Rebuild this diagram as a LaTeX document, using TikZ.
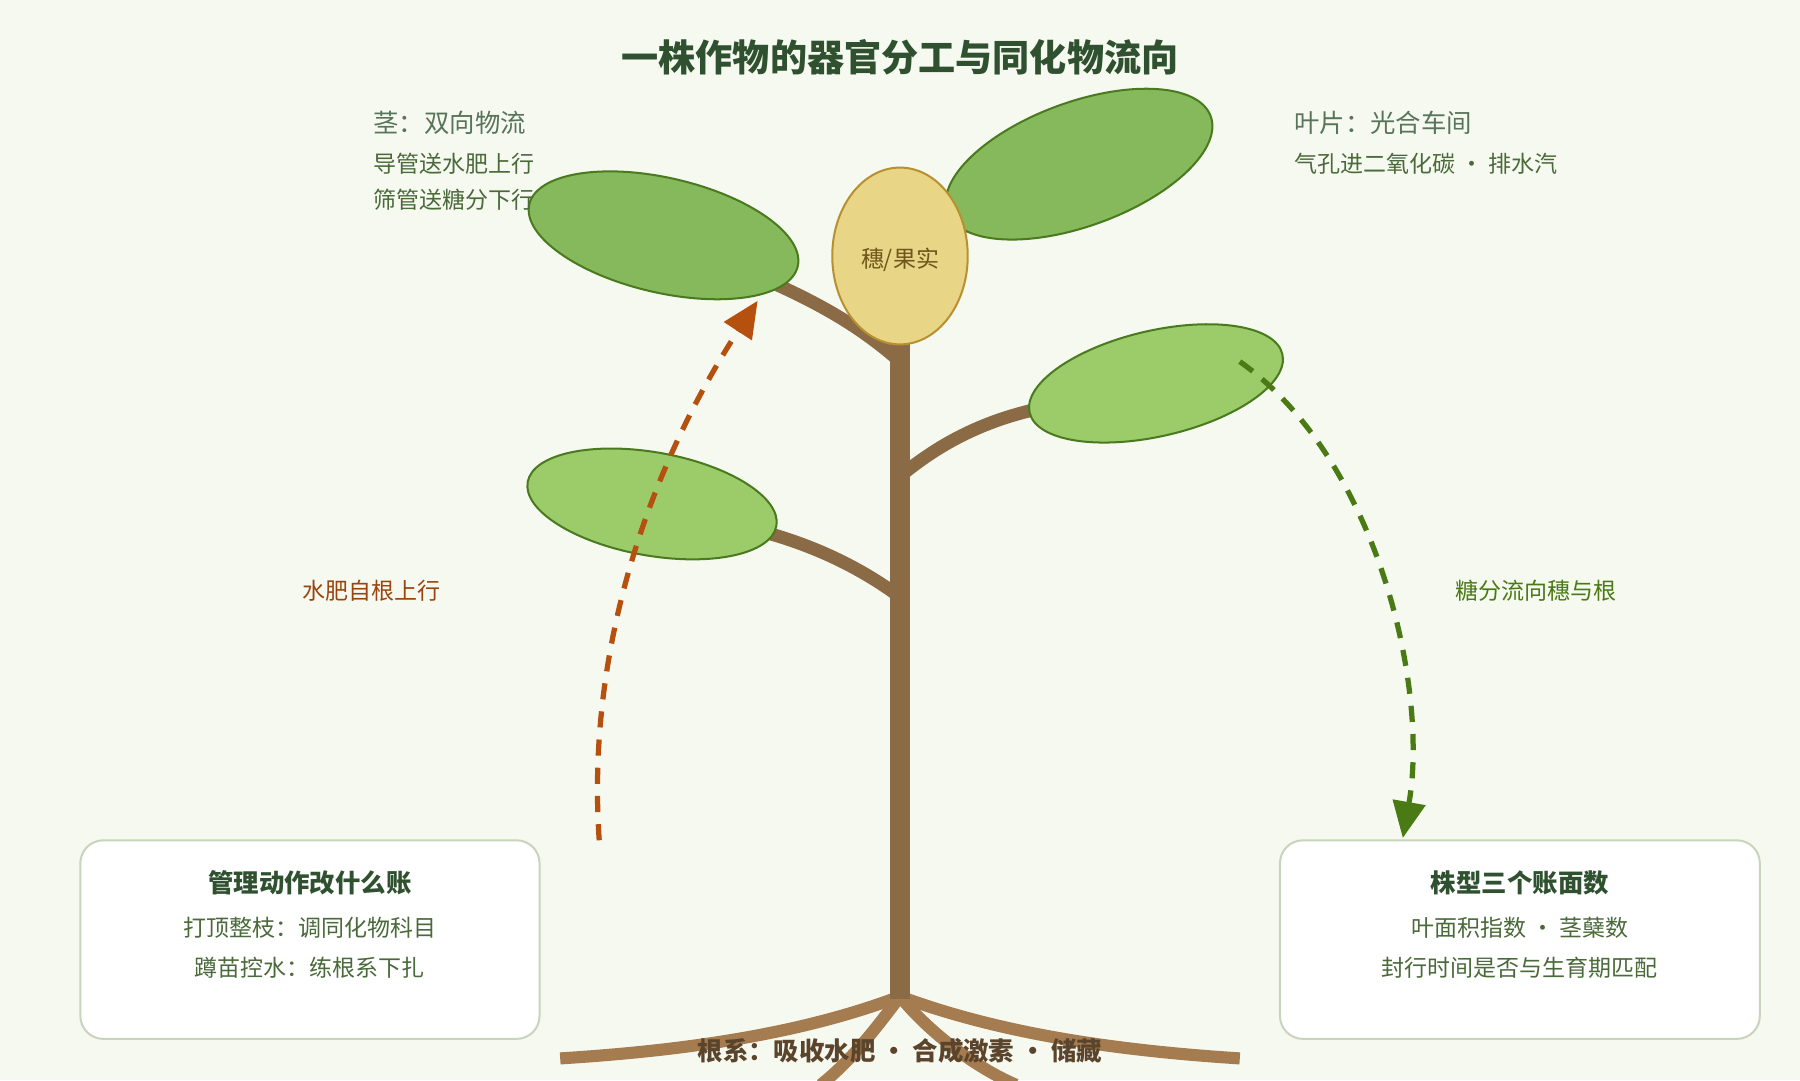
\documentclass[tikz,border=0pt]{standalone}
\usepackage{fontspec}
\setmainfont{Noto Sans CJK SC}
\usetikzlibrary{arrows.meta}
\definecolor{bg}{HTML}{F6F9F0}
\definecolor{stem}{HTML}{8B6B45}
\definecolor{root}{HTML}{A57B50}
\definecolor{leafA}{HTML}{86B95B}
\definecolor{leafB}{HTML}{9CCB6A}
\definecolor{leafE}{HTML}{4A7A1E}
\definecolor{fruit}{HTML}{E8D686}
\definecolor{fruitE}{HTML}{B8902F}
\definecolor{org}{HTML}{B5500F}
\definecolor{grn}{HTML}{4A7A14}
\definecolor{tdark}{HTML}{2F5130}
\definecolor{tmid}{HTML}{4A6A3A}
\definecolor{boxE}{HTML}{C8D4BC}
\begin{document}
\begin{tikzpicture}[x=0.1mm,y=-0.1mm,
 leaf/.style={draw=leafE,line width=0.4pt,ellipse},
 br/.style={stem,line width=3.2pt},
 rt/.style={root,line width=3pt},
 box/.style={draw=boxE,fill=white,rounded corners=2mm,line width=0.5pt},
 lbl/.style={font=\fontsize{5.7}{7}\selectfont},
 hd/.style={font=\fontsize{6.3}{7.5}\selectfont}]
\fill[bg] (0,0) rectangle (1568,941);
\useasboundingbox (0,0) rectangle (1568,941);
\node[font=\bfseries\fontsize{9.2}{11}\selectfont,text=tdark] (title) at (784,50) {一株作物的器官分工与同化物流向};
% roots
\draw[rt] (784,868) .. controls (700,900) and (600,915) .. (488,922);
\draw[rt] (784,868) .. controls (870,900) and (970,915) .. (1080,922);
\draw[rt] (784,868) .. controls (760,900) and (740,925) .. (715,945);
\draw[rt] (784,868) .. controls (810,900) and (850,930) .. (885,945);
% branches
\draw[br] (784,315) .. controls (750,285) and (715,265) .. (670,245);
\draw[br] (784,220) .. controls (810,210) and (830,200) .. (860,190);
\draw[br] (784,415) .. controls (820,385) and (860,365) .. (910,355);
\draw[br] (784,520) .. controls (750,495) and (710,475) .. (660,462);
\draw[stem,line width=4.8pt] (784,300) -- (784,870);
% leaves
\fill[leafA] (940,143) ellipse [x radius=122,y radius=54,rotate=20];
\draw[leafE,line width=0.5pt] (940,143) ellipse [x radius=122,y radius=54,rotate=20];
\filldraw[fill=leafA,draw=leafE,line width=0.5pt] (578,205) ellipse [x radius=120,y radius=50,rotate=-13];
\filldraw[fill=leafB,draw=leafE,line width=0.5pt] (1007,334) ellipse [x radius=113,y radius=46,rotate=13];
\filldraw[fill=leafB,draw=leafE,line width=0.5pt] (568,439) ellipse [x radius=110,y radius=45,rotate=-10];
% fruit
\filldraw[fill=fruit,draw=fruitE,line width=0.5pt] (784,223) ellipse [x radius=59,y radius=77];
\node[lbl,text=fruitE!60!black] (fruit) at (784,226) {穗/果实};
% arrows
\coordinate (a1) at (522,732);
\coordinate (a2) at (660,262);
\draw[org,line width=1.3pt,dash pattern=on 4pt off 3pt,-{Triangle[length=9pt,width=8pt]}] (a1) .. controls (510,560) and (570,400) .. (a2);
\coordinate (b1) at (1080,315);
\coordinate (b2) at (1222,730);
\draw[grn,line width=1.3pt,dash pattern=on 4pt off 3pt,-{Triangle[length=9pt,width=8pt]}] (b1) .. controls (1200,400) and (1245,600) .. (b2);
\node[lbl,text=org!85!black] (l1) at (324,515) {水肥自根上行};
\node[lbl,text=grn] (l2) at (1338,515) {糖分流向穗与根};
% top texts
\node[hd,anchor=west,text=tdark!80] (t1) at (313,107) {茎：双向物流};
\node[lbl,anchor=west,text=tmid] (t2) at (313,143) {导管送水肥上行};
\node[lbl,anchor=west,text=tmid] (t3) at (313,174) {筛管送糖分下行};
\node[hd,anchor=west,text=tdark!80] (t4) at (1115,107) {叶片：光合车间};
\node[lbl,anchor=west,text=tmid] (t5) at (1115,143) {气孔进二氧化碳 · 排水汽};
% boxes
\draw[box] (70,732) rectangle (470,905);
\node[hd,font=\bfseries\fontsize{6.3}{7.5}\selectfont,text=tdark] (b1t) at (270,769) {管理动作改什么账};
\node[lbl,text=tmid] (b1a) at (270,808) {打顶整枝：调同化物科目};
\node[lbl,text=tmid] (b1b) at (270,843) {蹲苗控水：练根系下扎};
\draw[box] (1115,732) rectangle (1533,905);
\node[hd,font=\bfseries\fontsize{6.3}{7.5}\selectfont,text=tdark] (b2t) at (1324,769) {株型三个账面数};
\node[lbl,text=tmid] (b2a) at (1324,808) {叶面积指数 · 茎蘖数};
\node[lbl,text=tmid] (b2b) at (1324,843) {封行时间是否与生育期匹配};
\node[font=\bfseries\fontsize{6.3}{7.5}\selectfont,text=root!55!black] (rl) at (784,915) {根系：吸收水肥 · 合成激素 · 储藏};
\end{tikzpicture}
\end{document}
